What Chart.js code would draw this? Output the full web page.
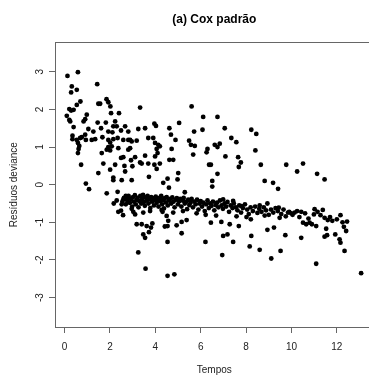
<!DOCTYPE html>
<html>
<head>
<meta charset="utf-8">
<script src="https://cdn.jsdelivr.net/npm/chart.js@4.4.1/dist/chart.umd.min.js"></script>
<style>
html,body{margin:0;padding:0;background:#fff;overflow:hidden}
canvas{display:block}
</style>
</head>
<body>
<canvas id="grafico" width="376" height="376"></canvas>
<script>
// tempos (x) e residuos deviance (y)
const tempos = [
// topo esquerdo
0.13,0.59,0.32,0.29,0.54,1.44,1.49,1.57,1.85,1.93,2.02,2.05,2.40,0.70,0.54,0.21,0.29,0.40,0.10,0.21,
0.25,0.98,0.91,0.84,1.46,1.82,2.23,2.15,2.30,2.67,0.40,1.05,1.27,1.61,1.93,2.11,2.49,2.81,0.35,0.91,
0.35,0.54,0.69,0.76,0.94,1.20,1.35,1.67,1.93,2.01,2.15,2.34,2.59,2.81,0.59,0.65,0.62,0.59,1.93,2.08,
1.86,2.37,1.64,2.01,2.49,2.59,2.81,0.73,1.71,2.01,2.23,2.64,2.67,1.49,
// perto de zero, esquerda
0.94,1.08,2.15,2.15,2.52,1.86,2.34,2.70,2.81,2.59,2.30,2.17,2.52,2.78,2.37,2.58,
// topo meio
3.33,5.60,6.11,3.96,4.03,3.25,3.55,4.62,5.05,5.71,6.08,4.69,3.69,3.91,4.89,2.89,2.96,3.18,3.99,4.13,
4.20,5.49,5.57,5.74,2.89,4.06,4.72,6.30,4.10,5.67,6.26,3.11,3.55,3.99,2.93,3.33,3.40,3.69,4.20,4.62,
4.79,2.99,3.96,4.06,6.37,5.01,
// baixo meio
2.96,3.72,4.35,4.54,4.98,4.60,5.30,2.96,3.11,3.47,3.77,4.28,4.79,4.50,4.57,3.18,3.40,3.62,3.87,3.81,
3.72,3.47,3.55,4.42,4.54,4.94,5.16,5.38,5.16,4.54,6.21,3.25,3.57,4.54,4.84,2.49,3.03,
// topo direito
6.74,7.06,8.23,8.45,7.35,7.57,6.62,6.74,6.84,8.41,7.09,7.65,6.45,7.77,7.68,8.65,9.77,6.74,
// baixo direito
6.51,6.51,8.82,9.19,9.41,6.45,6.91,7.28,7.68,8.21,9.48,6.99,7.18,7.43,8.23,8.94,9.23,9.73,8.16,8.60,
9.52,6.95,9.11,6.99,7.43,7.80,8.60,8.94,9.44,9.85,
// extremo direito
10.51,10.25,11.13,11.46,9.99,10.14,10.43,11.02,10.99,11.38,11.28,11.46,11.60,12.16,10.51,10.65,10.80,10.90,11.09,11.53,
12.31,12.41,10.43,11.46,11.57,11.93,12.12,12.16,12.34,11.09,13.07,
// faixa densa
2.55,2.62,2.70,2.75,2.82,2.88,2.93,2.98,3.02,3.06,3.10,3.14,3.18,3.22,3.26,3.30,3.34,3.38,3.42,3.46,
3.50,3.54,3.58,3.62,3.66,3.70,3.74,3.78,3.82,3.86,3.90,3.94,3.98,
4.02,4.06,4.10,4.14,4.18,4.22,4.26,4.30,4.34,4.38,4.42,4.46,4.50,4.55,4.60,4.65,4.70,4.75,4.80,4.85,
4.90,4.95,5.00,5.05,5.10,5.15,5.20,5.25,5.30,5.35,5.40,5.45,5.50,
5.55,5.60,5.66,5.72,5.78,5.84,5.90,5.95,6.00,6.06,6.12,6.18,6.24,6.30,6.36,6.42,6.48,6.54,6.60,6.66,
6.72,6.78,6.85,6.92,6.98,7.05,7.12,7.18,7.25,7.32,7.40,7.46,
7.55,7.62,7.70,7.78,7.86,7.95,8.05,8.12,8.20,8.30,8.40,8.50,8.58,8.68,8.78,8.88,9.00,9.10,9.20,9.30,
9.40,9.55,9.65,9.75,9.90,
10.05,10.25,10.35,10.60,10.75,11.15,11.70,11.80,12.00,12.25,12.45,
// borda inferior da faixa
4.32,5.22,5.82,6.22,6.68,7.58,8.02,8.82
];

const residuos = [
// topo esquerdo
2.89,2.99,2.61,2.45,2.52,2.67,2.15,2.15,2.27,2.19,2.08,1.90,1.90,2.21,2.12,2.01,1.97,1.99,1.83,1.72,
1.68,1.86,1.74,1.68,1.65,1.65,1.68,1.55,1.55,1.55,1.53,1.48,1.41,1.50,1.41,1.39,1.44,1.41,1.30,1.33,
1.21,1.19,1.24,1.26,1.19,1.19,1.21,1.26,1.19,1.12,1.21,1.24,1.19,1.19,1.11,1.03,0.95,0.84,1.00,1.02,
0.93,0.97,0.84,0.91,0.71,0.73,0.93,0.53,0.56,0.40,0.53,0.50,0.35,0.31,
// perto de zero, esquerda
0.03,-0.12,0.19,0.12,0.12,-0.23,-0.19,-0.30,-0.32,-0.39,-0.42,-0.50,-0.52,-0.46,-0.72,-0.81,
// topo meio
2.05,2.08,1.80,1.62,1.56,1.48,1.50,1.50,1.64,1.41,1.46,1.33,1.24,1.24,1.19,1.19,1.15,1.17,1.11,1.06,
1.02,1.17,1.06,1.03,0.97,0.95,0.95,0.95,0.84,0.80,0.86,0.73,0.77,0.75,0.65,0.59,0.56,0.56,0.56,0.66,
0.66,0.49,0.53,0.42,0.53,0.31,
// baixo meio
0.12,0.21,0.05,0.16,0.14,-0.08,-0.20,-0.64,-0.79,-0.74,-0.70,-0.67,-0.74,-0.83,-0.96,-1.05,-1.05,-1.10,-1.03,-1.14,
-1.26,-1.32,-1.41,-1.11,-1.10,-1.08,-0.99,-0.94,-1.29,-1.52,-1.52,-1.80,-2.23,-2.42,-2.38,-0.69,-0.72,
// topo direito
1.80,1.50,1.46,1.35,1.24,1.13,1.06,1.00,1.09,0.91,0.75,0.73,0.53,0.59,0.47,0.53,0.53,0.29,
// baixo direito
0.10,-0.05,0.10,0.05,-0.11,-1.01,-0.99,-1.05,-1.10,-0.92,-0.88,-1.36,-1.32,-1.52,-1.36,-1.20,-1.14,-1.34,-1.64,-1.73,
-1.76,-1.87,-1.96,-0.39,-0.43,-0.57,-0.55,-0.50,-0.61,-0.74,
// extremo direito
0.56,0.35,0.29,0.14,-0.76,-0.74,-0.72,-0.65,-0.79,-0.67,-0.81,-0.88,-0.94,-0.81,-1.01,-1.05,-1.01,-1.05,-1.10,-1.17,
-1.12,-1.23,-1.41,-1.38,-1.34,-1.32,-1.45,-1.54,-1.76,-2.10,-2.35,
// faixa densa
-0.45,-0.35,-0.52,-0.40,-0.30,-0.48,-0.38,-0.58,-0.33,-0.45,-0.28,-0.52,-0.40,-0.35,-0.60,-0.44,-0.30,-0.50,-0.38,-0.27,
-0.46,-0.56,-0.34,-0.42,-0.30,-0.50,-0.38,-0.62,-0.33,-0.45,-0.36,-0.55,-0.41,
-0.32,-0.48,-0.38,-0.58,-0.35,-0.44,-0.30,-0.52,-0.40,-0.63,-0.36,-0.47,-0.33,-0.55,-0.42,-0.38,-0.50,-0.34,-0.45,-0.60,
-0.40,-0.36,-0.52,-0.44,-0.38,-0.58,-0.42,-0.35,-0.50,-0.46,-0.65,-0.40,-0.54,
-0.48,-0.38,-0.60,-0.45,-0.52,-0.40,-0.66,-0.50,-0.44,-0.58,-0.48,-0.70,-0.52,-0.42,-0.62,-0.50,-0.56,-0.45,-0.68,-0.54,
-0.48,-0.60,-0.42,-0.55,-0.64,-0.50,-0.58,-0.46,-0.72,-0.55,-0.62,-0.50,
-0.60,-0.68,-0.55,-0.74,-0.62,-0.52,-0.66,-0.78,-0.60,-0.70,-0.58,-0.75,-0.64,-0.72,-0.60,-0.68,-0.80,-0.66,-0.74,-0.62,
-0.70,-0.78,-0.66,-0.84,-0.72,
-0.80,-0.70,-0.86,-0.76,-0.90,-0.72,-0.86,-0.96,-0.92,-1.00,-0.98,
// borda inferior da faixa
-0.72,-0.70,-0.76,-0.80,-0.82,-0.84,-0.86,-0.82
];

const xTicks = [0, 2, 4, 6, 8, 10, 12];
const yTicks = [-3, -2, -1, 0, 1, 2, 3];

const FONT = '"Liberation Sans", Arial, sans-serif';
const AXIS = '#666';
const TEXT = '#222';

let pontos = tempos.map((t, i) => ({x: t, y: residuos[i]}));

// moldura e rotulos do eixo y girados (estilo R)
const moldura = {
  id: 'moldura',
  afterDraw(chart) {
    const ctx = chart.ctx;
    const a = chart.chartArea;
    ctx.save();
    ctx.strokeStyle = AXIS;
    ctx.lineWidth = 1;
    ctx.strokeRect(Math.round(a.left) + 0.5, Math.round(a.top) + 0.5, Math.round(a.width), Math.round(a.height));

    const y = chart.scales.y;
    ctx.fillStyle = TEXT;
    ctx.font = '10px ' + FONT;
    ctx.textAlign = 'center';
    ctx.textBaseline = 'middle';
    for (const v of yTicks) {
      ctx.save();
      ctx.translate(40, y.getPixelForValue(v));
      ctx.rotate(-Math.PI / 2);
      ctx.fillText(String(v), 0, 0);
      ctx.restore();
    }
    ctx.restore();
  }
};

new Chart(document.getElementById('grafico'), {
  type: 'scatter',
  data: {
    datasets: [{
      data: pontos,
      backgroundColor: '#000',
      borderWidth: 0,
      pointRadius: 2.4,
      pointHoverRadius: 2.4
    }]
  },
  options: {
    responsive: false,
    animation: false,
    layout: {padding: {top: 0, right: 2, bottom: 0, left: 0}},
    plugins: {
      legend: {display: false},
      tooltip: {enabled: false},
      title: {
        display: true,
        text: '(a) Cox padrão',
        fullSize: false,
        color: '#000',
        font: {family: FONT, size: 12, weight: 'bold'},
        padding: {top: 12, bottom: 16}
      }
    },
    scales: {
      x: {
        type: 'linear',
        min: -0.42,
        max: 13.62,
        afterBuildTicks: s => { s.ticks = xTicks.map(v => ({value: v})); },
        afterFit: s => { s.height = 49; },
        ticks: {color: TEXT, font: {family: FONT, size: 10}, padding: 8, maxRotation: 0, autoSkip: false},
        grid: {drawOnChartArea: false, drawTicks: true, tickLength: 6, color: AXIS},
        border: {display: true, color: AXIS},
        title: {display: true, text: 'Tempos', color: TEXT, font: {family: FONT, size: 10}, padding: {top: 0, bottom: 0}}
      },
      y: {
        type: 'linear',
        min: -3.78,
        max: 3.78,
        afterBuildTicks: s => { s.ticks = yTicks.map(v => ({value: v})); },
        afterFit: s => { s.width = 55; },
        ticks: {display: false},
        grid: {drawOnChartArea: false, drawTicks: true, tickLength: 6, color: AXIS},
        border: {display: true, color: AXIS},
        title: {display: true, text: 'Resíduos deviance', color: TEXT, font: {family: FONT, size: 10}, padding: {top: 8, bottom: 0}}
      }
    }
  },
  plugins: [moldura]
});
</script>
</body>
</html>
